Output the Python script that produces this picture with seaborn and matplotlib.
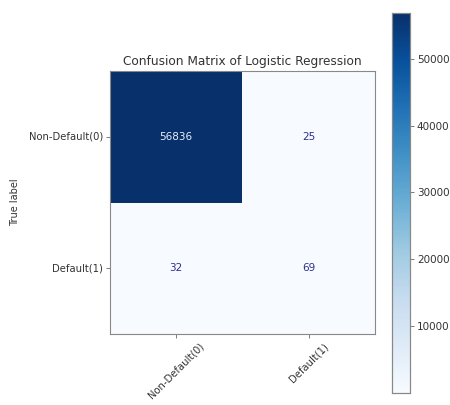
import matplotlib
matplotlib.use("Agg")
import matplotlib.pyplot as plt
import numpy as np
import pandas as pd
import seaborn as sns

# Confusion matrix counts (rows: true label, columns: predicted label)
class_labels = ["Non-Default(0)", "Default(1)"]
row_non_default = [56836, 25]
row_default = [32, 69]
cbar_ticks = [10000, 20000, 30000, 40000, 50000]

cm = pd.DataFrame([row_non_default, row_default], index=class_labels, columns=class_labels)

sns.set_style("ticks")
plt.rcParams["font.family"] = ["DejaVu Sans"]

fig = plt.figure(figsize=(4.5, 4.05), dpi=100)
ax = fig.add_axes([0.244, 0.1753, 0.589, 0.6494])
cax = fig.add_axes([0.871, 0.030, 0.040, 0.938])

vals = cm.values
sns.heatmap(cm, ax=ax, cbar_ax=cax, cmap="Blues", annot=False,
            vmin=vals.min(), vmax=vals.max(), square=False, linewidths=0)

thresh = (vals.max() + vals.min()) / 2
for i in range(vals.shape[0]):
    for j in range(vals.shape[1]):
        color = "#e8eefa" if vals[i, j] > thresh else "#2e2e8e"
        ax.text(j + 0.5, i + 0.5, str(vals[i, j]), ha="center", va="center",
                fontsize=7.5, color=color)

text_color = "#333333"
ax.set_title("Confusion Matrix of Logistic Regression", fontsize=8.7,
             color=text_color, pad=4)
ax.set_ylabel("True label", fontsize=7, color=text_color, labelpad=6)
ax.set_xlabel("")
ax.set_xticklabels(class_labels, rotation=45, ha="center", fontsize=7.2, color=text_color)
ax.set_yticklabels(class_labels, rotation=0, fontsize=7.2, color=text_color)
ax.tick_params(axis="both", length=3, width=0.6, color="#666666", pad=2)
for sp in ax.spines.values():
    sp.set_visible(True)
    sp.set_color("#888888")
    sp.set_linewidth(0.8)

cax.set_yticks(cbar_ticks)
cax.set_yticklabels([str(t) for t in cbar_ticks])
cax.tick_params(axis="y", length=3, width=0.6, color="#666666", labelsize=7.5,
                labelcolor=text_color, pad=2)
for sp in cax.spines.values():
    sp.set_visible(True)
    sp.set_color("#888888")
    sp.set_linewidth(0.8)

fig.savefig("out.png", dpi=100, facecolor="white")
